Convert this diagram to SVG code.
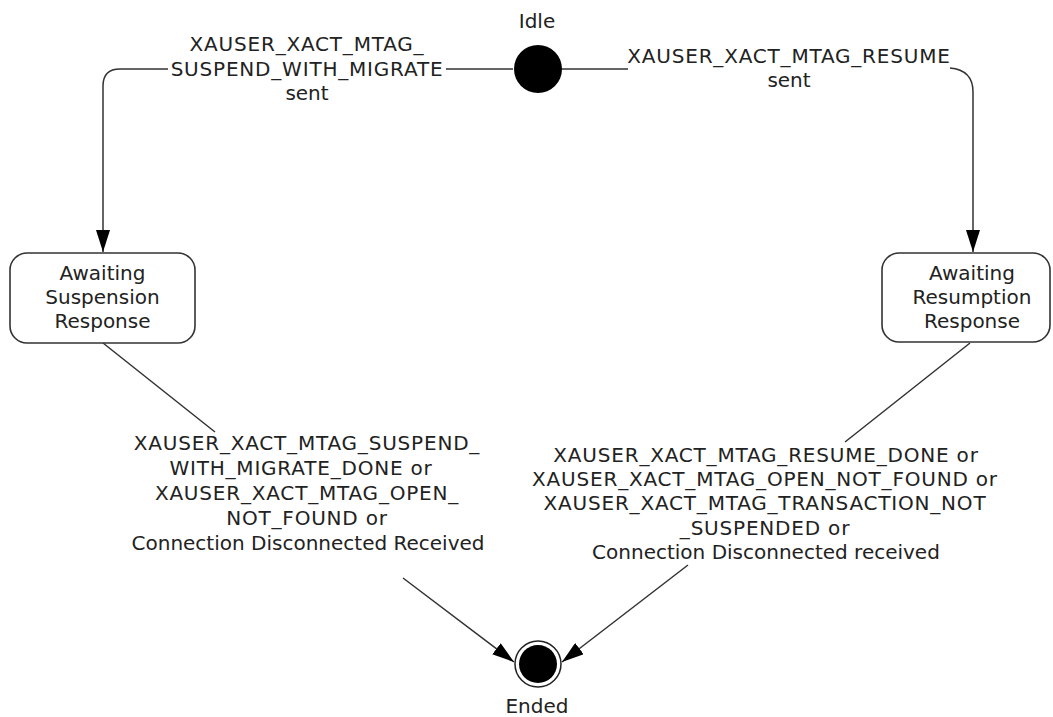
<svg xmlns="http://www.w3.org/2000/svg" width="1053" height="717" viewBox="0 0 1053 717">
<style>
text { font-family: "DejaVu Sans", Verdana, sans-serif; font-size: 20px; fill: #222; text-anchor: middle; }
text.caps { letter-spacing: 0.8px; }
.state { fill: #fff; stroke: #333; stroke-width: 1.6; }
.conn { fill: none; stroke: #333; stroke-width: 1.5; }
</style>
<defs>
<marker id="arr" viewBox="0 0 22 14" refX="22" refY="7" markerWidth="22" markerHeight="14" markerUnits="userSpaceOnUse" orient="auto">
<path d="M0,0 L22,7 L0,14 Z" fill="#000"/>
</marker>
</defs>
<rect width="1053" height="717" fill="#fff"/>
<g id="connectors">
<path class="conn" d="M513,69 H446 M168,69 H120 Q103,69 103,86 V252" marker-end="url(#arr)"/>
<path class="conn" d="M562,69 H628 M950,68 Q973,70 973,92 V252" marker-end="url(#arr)"/>
<path class="conn" d="M103,343 L215,432 M403,578 L514,662" marker-end="url(#arr)"/>
<path class="conn" d="M970,343 L845,442 M688,565 L562,662" marker-end="url(#arr)"/>
</g>
<g id="label-suspend-sent">
<text class="caps" x="307" y="51">XAUSER_XACT_MTAG_</text>
<text class="caps" x="307" y="76">SUSPEND_WITH_MIGRATE</text>
<text x="307" y="100">sent</text>
</g>
<g id="label-resume-sent">
<text class="caps" x="789" y="63">XAUSER_XACT_MTAG_RESUME</text>
<text x="789" y="87">sent</text>
</g>
<g id="label-suspend-done">
<text class="caps" x="307" y="450">XAUSER_XACT_MTAG_SUSPEND_</text>
<text class="caps" x="301" y="475">WITH_MIGRATE_DONE or</text>
<text class="caps" x="307" y="500">XAUSER_XACT_MTAG_OPEN_</text>
<text class="caps" x="307" y="525">NOT_FOUND or</text>
<text x="308" y="550">Connection Disconnected Received</text>
</g>
<g id="label-resume-done">
<text class="caps" x="766" y="462">XAUSER_XACT_MTAG_RESUME_DONE or</text>
<text class="caps" x="765" y="486">XAUSER_XACT_MTAG_OPEN_NOT_FOUND or</text>
<text class="caps" x="765" y="510">XAUSER_XACT_MTAG_TRANSACTION_NOT</text>
<text class="caps" x="765" y="535">_SUSPENDED or</text>
<text x="766" y="559">Connection Disconnected received</text>
</g>
<g id="idle">
<circle cx="538" cy="69" r="24" fill="#000"/>
<text x="537" y="28">Idle</text>
</g>
<g id="awaiting-suspension">
<rect class="state" x="10" y="253" width="185" height="90" rx="17"/>
<text x="102.5" y="280">Awaiting</text>
<text x="102.5" y="304">Suspension</text>
<text x="102.5" y="328">Response</text>
</g>
<g id="awaiting-resumption">
<rect class="state" x="882" y="253" width="168" height="89" rx="17"/>
<text x="972" y="280">Awaiting</text>
<text x="972" y="304">Resumption</text>
<text x="972" y="328">Response</text>
</g>
<g id="ended">
<circle cx="538" cy="664" r="23" fill="#fff" stroke="#222" stroke-width="1.5"/>
<circle cx="538" cy="664" r="19" fill="#000"/>
<text x="537" y="713">Ended</text>
</g>
</svg>
